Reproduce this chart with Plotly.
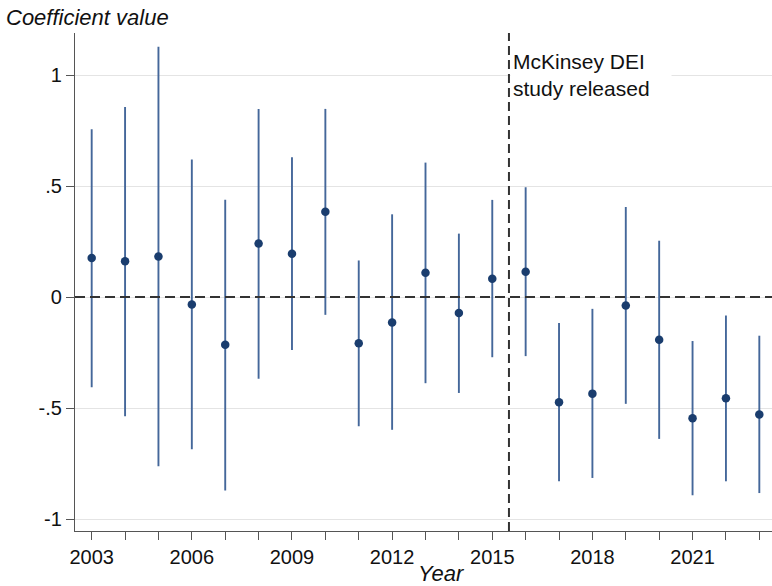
import plotly.graph_objects as go

# Event-study coefficients by year with 95% confidence bounds
years = list(range(2003, 2024))
coef = [0.176, 0.162, 0.183, -0.033, -0.215, 0.241, 0.195, 0.385, -0.208, -0.114,
        0.110, -0.072, 0.083, 0.114, -0.474, -0.435, -0.038, -0.192, -0.546, -0.456, -0.529]
upper = [0.756, 0.857, 1.128, 0.620, 0.439, 0.847, 0.630, 0.848, 0.165, 0.373,
         0.606, 0.286, 0.438, 0.495, -0.117, -0.053, 0.406, 0.254, -0.198, -0.083, -0.174]
lower = [-0.406, -0.537, -0.762, -0.686, -0.872, -0.368, -0.238, -0.080, -0.582, -0.598,
         -0.388, -0.432, -0.271, -0.266, -0.830, -0.815, -0.481, -0.639, -0.893, -0.830, -0.883]

x_tick_labels = [str(y) if (y - 2003) % 3 == 0 else "" for y in years]
y_tick_vals = [-1, -0.5, 0, 0.5, 1]
y_tick_labels = ["-1", "-.5", "0", ".5", "1"]

event_year = 2015.5
event_label = "McKinsey DEI<br>study released"

FONT = "Liberation Sans, Arial, sans-serif"
MARKER = "#1a3d6e"
BAR = "#44679a"
AXIS = "#555555"
REF = "#333333"

err_plus = [u - c for u, c in zip(upper, coef)]
err_minus = [c - l for c, l in zip(coef, lower)]

fig = go.Figure()
fig.add_trace(go.Scatter(
    x=years, y=coef, mode="markers",
    marker=dict(color=MARKER, size=8.5),
    error_y=dict(type="data", symmetric=False, array=err_plus, arrayminus=err_minus,
                 color=BAR, thickness=1.9, width=0),
    showlegend=False, hoverinfo="skip",
))

# Reference lines: zero effect and the event date
fig.add_shape(type="line", xref="paper", x0=0, x1=1, yref="y", y0=0, y1=0,
              line=dict(color=REF, width=2, dash="10px,5px"), layer="above")
fig.add_shape(type="line", xref="x", x0=event_year, x1=event_year, yref="paper", y0=0, y1=1,
              line=dict(color=REF, width=2, dash="9px,5px"), layer="above")

fig.add_annotation(
    x=event_year, xref="x", xanchor="left", xshift=1,
    y=1.125, yref="y", yanchor="top",
    text=event_label, showarrow=False, align="left",
    width=156, bgcolor="white", borderpad=2,
    font=dict(family=FONT, size=21, color="#111111"),
)
fig.add_annotation(
    x=(442 - 75) / 697, xref="paper", xanchor="center",
    y=-(573 - 531) / 498, yref="paper", yanchor="middle",
    text="<i>Year</i>", showarrow=False,
    font=dict(family=FONT, size=22, color="#111111"),
)

fig.update_layout(
    width=772, height=586,
    margin=dict(l=75, r=0, t=33, b=55),
    paper_bgcolor="white", plot_bgcolor="white",
    font=dict(family=FONT, size=20, color="#111111"),
    title=dict(text="<i>Coefficient value</i>", xref="container", x=6 / 772, xanchor="left",
               yref="container", y=1 - 17 / 586, yanchor="middle",
               font=dict(family=FONT, size=22, color="#111111")),
)
fig.update_xaxes(
    range=[2002.5, 2023.38],
    tickmode="array", tickvals=years, ticktext=x_tick_labels,
    ticks="outside", ticklen=8, tickwidth=1.2, tickcolor=AXIS,
    showline=True, linecolor=AXIS, linewidth=1.2,
    showgrid=False, zeroline=False,
    tickfont=dict(family=FONT, size=20, color="#111111"),
)
fig.update_yaxes(
    range=[-1.054, 1.19],
    tickmode="array", tickvals=y_tick_vals, ticktext=y_tick_labels,
    ticks="outside", ticklen=8, tickwidth=1.2, tickcolor=AXIS,
    showline=True, linecolor=AXIS, linewidth=1.2,
    showgrid=True, gridcolor="#e4e4e4", gridwidth=1.2, zeroline=False,
    tickfont=dict(family=FONT, size=20, color="#111111"),
)

fig.write_html("out.html")
